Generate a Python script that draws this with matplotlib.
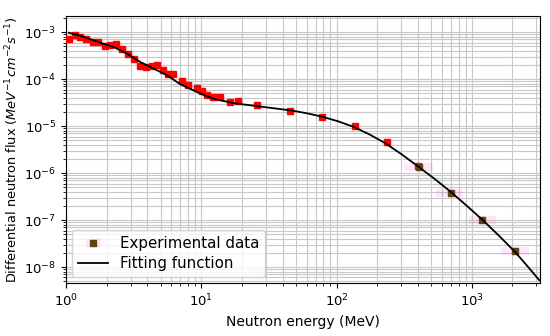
import matplotlib
matplotlib.use("Agg")
import matplotlib.pyplot as plt

# Red data points (low energy)
red_E = [1.05, 1.17, 1.27, 1.41, 1.58, 1.73, 1.94, 2.12, 2.34, 2.6, 2.88, 3.19, 3.53, 3.9, 4.3, 4.7,
         5.2, 5.7, 6.2, 7.2, 8.0, 9.3, 10.2, 11.1, 12.3, 13.8, 16.4, 18.8, 26.0, 45.6, 78.7, 136, 235, 401]
red_F = [7.1e-4, 8.6e-4, 7.8e-4, 7.1e-4, 6.2e-4, 6.1e-4, 5.0e-4, 5.3e-4, 5.6e-4, 4.3e-4, 3.4e-4, 2.7e-4,
         1.9e-4, 1.8e-4, 1.9e-4, 2.0e-4, 1.6e-4, 1.3e-4, 1.28e-4, 9.0e-5, 7.7e-5, 6.5e-5, 5.5e-5, 4.6e-5,
         4.2e-5, 4.1e-5, 3.2e-5, 3.4e-5, 2.8e-5, 2.1e-5, 1.55e-5, 1.0e-5, 4.6e-6, 1.4e-6]

# Experimental data (high energy) with energy ranges
exp_E = [405, 699, 1200, 2090]
exp_F = [1.35e-6, 3.8e-7, 1.0e-7, 2.2e-8]
exp_lo = [92, 158, 250, 450]
exp_hi = [110, 158, 305, 553]

# Fitting function
fit_E = [1.05, 1.27, 1.593, 1.88, 2.24, 2.816, 3.53, 4.43, 5.57, 6.99, 9.03, 10.7, 12.7, 17.9, 25.1,
         35.3, 47.2, 61, 78.8, 102.6, 133.6, 175.5, 230.6, 298, 405, 532, 699, 918, 1206, 1585, 2083,
         2555, 3153]
fit_F = [9.76e-4, 8.43e-4, 6.76e-4, 5.69e-4, 4.87e-4, 3.52e-4, 2.33e-4, 1.69e-4, 1.22e-4, 7.83e-5,
         5.56e-5, 4.46e-5, 3.75e-5, 3.04e-5, 2.70e-5, 2.38e-5, 2.14e-5, 1.87e-5, 1.58e-5, 1.27e-5,
         9.66e-6, 6.65e-6, 4.29e-6, 2.60e-6, 1.36e-6, 7.5e-7, 4.0e-7, 2.02e-7, 1.0e-7, 4.68e-8,
         2.12e-8, 1.08e-8, 5.28e-9]

fig = plt.figure(figsize=(5.5, 3.36), dpi=100)
ax = fig.add_axes([0.12, 0.158, 0.862, 0.794])
ax.set_xscale("log")
ax.set_yscale("log")

ax.grid(True, which="both", color="#c8c8c8", linewidth=0.8)
ax.set_axisbelow(True)

ax.plot(red_E, red_F, "s", color="#ff0000", markersize=5, zorder=3)
eb = ax.errorbar(exp_E, exp_F, xerr=[exp_lo, exp_hi], fmt="s", color="#5c4510", markersize=5,
                 ecolor="#ff33cc", elinewidth=6, capsize=0, zorder=4,
                 label="Experimental data")
for coll in eb.lines[2]:
    coll.set_alpha(0.12)
fl, = ax.plot(fit_E, fit_F, "-", color="black", linewidth=1.3, zorder=5, label="Fitting function")

ax.set_xlim(1, 3200)
ax.set_ylim(4.6e-9, 2.2e-3)
ax.set_xlabel("Neutron energy (MeV)", fontsize=10)
ax.set_ylabel(r"Differential neutron flux ($MeV^{-1}cm^{-2}s^{-1}$)", fontsize=9.3, labelpad=2)
ax.tick_params(labelsize=9.5)

ax.legend(handles=[eb, fl], loc="lower left", fontsize=10.8, framealpha=0.8,
          labelspacing=0.3, borderaxespad=0.4)

fig.savefig("out.png", dpi=100)
